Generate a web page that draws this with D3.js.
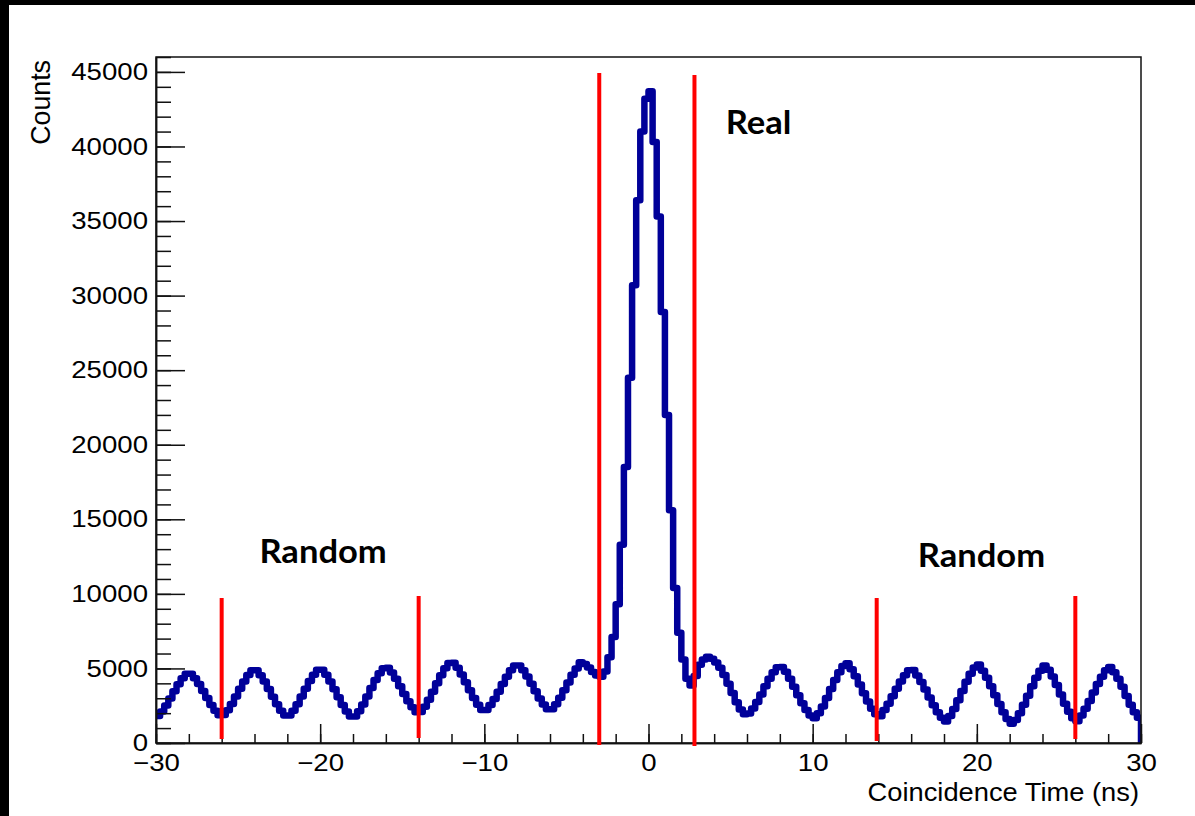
<!DOCTYPE html>
<html><head><meta charset="utf-8">
<script src="https://cdn.jsdelivr.net/npm/d3@7/dist/d3.min.js"></script>
<style>
html,body{margin:0;padding:0;background:#fff;}
svg{display:block;}
</style></head>
<body>
<svg id="chart" width="1195" height="816"></svg>
<script>
// ---- data ----
const xRange = [-30, 30];
const yRange = [0, 46000];
const xMajorTicks = [-30, -20, -10, 0, 10, 20, 30];
const xMinorTicks = d3.range(-30, 30.001, 2);
const yMajorTicks = [0, 5000, 10000, 15000, 20000, 25000, 30000, 35000, 40000, 45000];
const yMinorTicks = d3.range(0, 46000.1, 1000);
const xTitle = "Coincidence Time (ns)";
const yTitle = "Counts";
// histogram contents, 240 bins of equal width over xRange
const counts = [
 1810, 2120, 2510, 2980, 3470, 3940, 4340, 4640,
 4640, 4340, 3950, 3490, 3010, 2550, 2160, 1860,
 1870, 2190, 2620, 3120, 3640, 4130, 4560, 4880,
 4880, 4550, 4120, 3620, 3100, 2600, 2170, 1840,
 1840, 2170, 2600, 3110, 3640, 4150, 4580, 4910,
 4910, 4570, 4130, 3610, 3070, 2550, 2110, 1770,
 1780, 2130, 2590, 3120, 3680, 4220, 4670, 5020,
 5040, 4720, 4300, 3810, 3290, 2800, 2390, 2070,
 2080, 2430, 2900, 3440, 4010, 4550, 5020, 5370,
 5380, 5040, 4590, 4070, 3530, 3010, 2560, 2220,
 2220, 2540, 2950, 3440, 3960, 4450, 4870, 5190,
 5190, 4870, 4460, 3980, 3470, 2990, 2580, 2260,
 2270, 2600, 3030, 3540, 4060, 4570, 5000, 5420,
 5300, 5070, 4760, 4530, 4450, 4800, 5750, 7100, 9300,
 13300, 18500, 24500, 30700, 36400, 41000, 43200,
 43700, 40300, 35300, 28900, 22000, 15600, 10400, 7400,
 5600, 4300, 3850, 4500, 5250, 5600, 5780, 5650,
 5400, 5050, 4560, 3980, 3350, 2740, 2250, 1920,
 1980, 2310, 2750, 3260, 3800, 4310, 4750, 5080,
 5090, 4770, 4310, 3780, 3210, 2670, 2210, 1850,
 1660, 1990, 2450, 3010, 3620, 4220, 4750, 5160,
 5350, 4940, 4480, 3930, 3340, 2780, 2290, 1920,
 1800, 2220, 2640, 3130, 3640, 4130, 4550, 4880,
 4890, 4530, 4090, 3590, 3050, 2530, 2060, 1690,
 1450, 1810, 2280, 2860, 3490, 4100, 4640, 5060,
 5260, 4850, 4370, 3810, 3210, 2610, 2060, 1610,
 1290, 1550, 2000, 2560, 3170, 3800, 4370, 4840,
 5190, 4920, 4460, 3890, 3260, 2640, 2090, 1660,
 1460, 1850, 2290, 2820, 3390, 3950, 4450, 4870,
 5090, 4750, 4300, 3770, 3150, 2570, 2070, 1690
];
// selection window lines (x, bottom, top) in data units
const cutX = [-26, -14, -3, 2.8, 13.9, 26];
const cutBottom = [270, 335, -130, -200, 130, 270];
const cutTop = [9720, 9860, 44930, 44800, 9720, 9860];
// annotations (start x, baseline y) in data units
const noteText = ["Real", "Random", "Random"];
const noteX = [4.7, -23.7, 16.4];
const noteY = [40840, 12070, 11800];

// ---- layout ----
const W = 1195, H = 816;
const m = {left: 156, right: 54, top: 57, bottom: 73};
const svg = d3.select("#chart");

// black border strips of the screenshot
svg.append("rect").attr("x", 0).attr("y", 0).attr("width", W).attr("height", 5).attr("fill", "#000");
svg.append("rect").attr("x", 0).attr("y", 0).attr("width", 9).attr("height", H).attr("fill", "#000");

const x = d3.scaleLinear().domain(xRange).range([m.left, W - m.right]);
const y = d3.scaleLinear().domain(yRange).range([H - m.bottom, m.top]);

svg.append("defs").append("clipPath").attr("id", "plotclip")
  .append("rect").attr("x", m.left).attr("y", m.top)
  .attr("width", W - m.left - m.right).attr("height", H - m.top - m.bottom);

// histogram
const nb = counts.length;
const bw = (xRange[1] - xRange[0]) / nb;
const pts = counts.map((c, i) => [xRange[0] + i * bw, c]);
pts.push([xRange[1], counts[nb - 1]]);
pts.push([xRange[1], 0]);
const line = d3.line().x(d => x(d[0])).y(d => y(d[1])).curve(d3.curveStepAfter);
svg.append("path").datum(pts)
  .attr("clip-path", "url(#plotclip)")
  .attr("d", line)
  .attr("fill", "none")
  .attr("stroke", "#000099")
  .attr("stroke-width", 6.5)
  .attr("stroke-linejoin", "round");

// frame
svg.append("rect").attr("x", m.left).attr("y", m.top)
  .attr("width", W - m.left - m.right).attr("height", H - m.top - m.bottom)
  .attr("fill", "none").attr("stroke", "#111").attr("stroke-width", 1.5);

const font = "'Liberation Sans', Arial, Helvetica, sans-serif";
const labelStretch = 1.15;

// y axis
const yMinorAxis = d3.axisLeft(y).tickValues(yMinorTicks).tickSize(-15).tickSizeOuter(0).tickFormat("");
svg.append("g").attr("transform", `translate(${m.left},0)`).call(yMinorAxis);
const yAxis = d3.axisLeft(y).tickValues(yMajorTicks).tickSize(-29).tickSizeOuter(0).tickPadding(8).tickFormat(d3.format("d"));
const gy = svg.append("g").attr("transform", `translate(${m.left},0)`).call(yAxis);
gy.selectAll("text")
  .attr("x", 0)
  .attr("transform", `translate(-8,0) scale(${labelStretch},1)`)
  .attr("font-family", font).attr("font-size", 24).attr("fill", "#000");

// x axis
const xMinorAxis = d3.axisBottom(x).tickValues(xMinorTicks).tickSize(-9).tickSizeOuter(0).tickFormat("");
svg.append("g").attr("transform", `translate(0,${H - m.bottom})`).call(xMinorAxis);
const xAxis = d3.axisBottom(x).tickValues(xMajorTicks).tickSize(-19).tickSizeOuter(0).tickPadding(11);
const gx = svg.append("g").attr("transform", `translate(0,${H - m.bottom})`).call(xAxis);
gx.selectAll("text")
  .attr("transform", `scale(${labelStretch},1)`)
  .attr("font-family", font).attr("font-size", 24).attr("fill", "#000");

svg.selectAll(".tick line").attr("stroke", "#111").attr("stroke-width", 1.5);
svg.selectAll(".domain").attr("stroke", "#111").attr("stroke-width", 1.5);

// titles
svg.append("text").text(xTitle)
  .attr("transform", `translate(${W - m.right - 2},801) scale(1.05,1)`)
  .attr("text-anchor", "end").attr("font-family", font).attr("font-size", 26).attr("fill", "#000");
svg.append("text").text(yTitle)
  .attr("transform", "translate(50,60) rotate(-90) scale(1.03,1.08)")
  .attr("text-anchor", "end").attr("font-family", font).attr("font-size", 26).attr("fill", "#000");

// red window lines
svg.append("g").selectAll("line").data(cutX).join("line")
  .attr("x1", d => x(d)).attr("x2", d => x(d))
  .attr("y1", (d, i) => y(cutBottom[i])).attr("y2", (d, i) => y(cutTop[i]))
  .attr("stroke", "#ff0000").attr("stroke-width", 4);

// annotations
svg.append("g").selectAll("text").data(noteText).join("text")
  .text(d => d)
  .attr("transform", (d, i) => `translate(${x(noteX[i])},${y(noteY[i])}) scale(1.08,1)`)
  .attr("font-family", "Lato, 'Open Sans', sans-serif").attr("font-weight", 700)
  .attr("font-size", 32).attr("fill", "#000");
</script>
</body></html>
